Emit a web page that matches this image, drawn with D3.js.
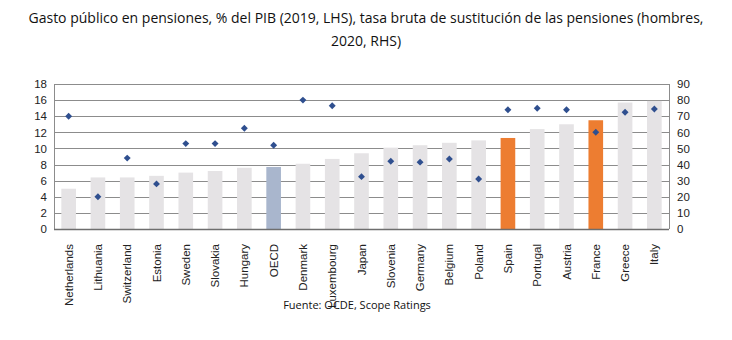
<!DOCTYPE html>
<html>
<head>
<meta charset="utf-8">
<script src="https://cdn.jsdelivr.net/npm/d3@7"></script>
<style>
  body { margin: 0; background: #fff; }
  svg { display: block; }
</style>
</head>
<body>
<div id="chart"></div>
<script>
// chart data
const countries = ["Netherlands", "Lithuania", "Switzerland", "Estonia", "Sweden", "Slovakia", "Hungary", "OECD",
  "Denmark", "Luxembourg", "Japan", "Slovenia", "Germany", "Belgium", "Poland", "Spain", "Portugal", "Austria",
  "France", "Greece", "Italy"];
const spending = [5.0, 6.4, 6.4, 6.6, 7.0, 7.2, 7.6, 7.7, 8.1, 8.7, 9.4, 10.1, 10.4, 10.7, 11.0, 11.3, 12.4, 13.0, 13.5, 15.7, 15.9];
const replacement = [70, 20, 44, 28, 53, 53, 62.5, 52, 80, 76.5, 32.5, 42, 41.5, 43.5, 31, 74, 75, 74, 60, 72.5, 74.5];
const leftTicks = [0, 2, 4, 6, 8, 10, 12, 14, 16, 18];
const rightTicks = [0, 10, 20, 30, 40, 50, 60, 70, 80, 90];
const highlight = { "OECD": "#a9b6cd", "Spain": "#ed7d31", "France": "#ed7d31" };

const W = 732, H = 340;
const margin = { top: 84, right: 63, bottom: 111, left: 54 };
const width = W - margin.left - margin.right,
      height = H - margin.top - margin.bottom;

const svg = d3.select("#chart").append("svg")
  .attr("width", W)
  .attr("height", H);

// title
const title = svg.append("text")
  .attr("x", 366)
  .attr("y", 23)
  .attr("text-anchor", "middle")
  .style("font-family", "'Open Sans', sans-serif")
  .style("font-size", "14px")
  .style("fill", "#111");
title.append("tspan").attr("x", 366).attr("dy", 0)
  .text("Gasto público en pensiones, % del PIB (2019, LHS), tasa bruta de sustitución de las pensiones (hombres,");
title.append("tspan").attr("x", 366).attr("dy", 23)
  .text("2020, RHS)");

const g = svg.append("g")
  .attr("transform", "translate(" + margin.left + "," + margin.top + ")");

const x = d3.scaleBand()
  .domain(countries)
  .range([0, width])
  .paddingInner(0.5)
  .paddingOuter(0.25);

const yL = d3.scaleLinear().domain([0, 18]).range([height, 0]);
const yR = d3.scaleLinear().domain([0, 90]).range([height, 0]);

// gridlines
g.selectAll("line.grid")
  .data(leftTicks)
  .enter().append("line")
  .attr("class", "grid")
  .attr("x1", 0).attr("x2", width)
  .attr("y1", d => Math.round(yL(d)) + 0.5)
  .attr("y2", d => Math.round(yL(d)) + 0.5)
  .attr("stroke", "#8c8c8c")
  .attr("stroke-width", 1);

// bars
g.selectAll("rect.bar")
  .data(spending)
  .enter().append("rect")
  .attr("class", "bar")
  .attr("x", (d, i) => x(countries[i]))
  .attr("width", x.bandwidth())
  .attr("y", d => yL(d))
  .attr("height", d => height - yL(d))
  .attr("fill", (d, i) => highlight[countries[i]] || "#e5e3e5");

// frame
g.append("line").attr("x1", 0.5).attr("x2", 0.5).attr("y1", 0).attr("y2", height)
  .attr("stroke", "#8c8c8c");
g.append("line").attr("x1", width + 0.5).attr("x2", width + 0.5).attr("y1", 0).attr("y2", height)
  .attr("stroke", "#8c8c8c");
g.append("line").attr("x1", 0).attr("x2", width).attr("y1", height + 0.5).attr("y2", height + 0.5)
  .attr("stroke", "#6e6e6e").attr("stroke-width", 1.5);

// diamonds (right axis)
const diamond = d3.symbol().type(d3.symbolSquare).size(24);
g.selectAll("path.pt")
  .data(replacement)
  .enter().append("path")
  .attr("class", "pt")
  .attr("d", diamond)
  .attr("transform", (d, i) => "translate(" + (x(countries[i]) + x.bandwidth() / 2) + "," + yR(d) + ") rotate(45)")
  .attr("fill", "#2f4f8f");

// axes
const tickFont = "'Liberation Sans', Arial, sans-serif";
const leftAxis = d3.axisLeft(yL).tickValues(leftTicks).tickSize(0).tickPadding(7);
const rightAxis = d3.axisRight(yR).tickValues(rightTicks).tickSize(0).tickPadding(8);
const bottomAxis = d3.axisBottom(x).tickSize(0).tickPadding(0);

g.append("g").attr("class", "y axis").call(leftAxis);
g.append("g").attr("class", "y2 axis").attr("transform", "translate(" + width + ",0)").call(rightAxis);
g.append("g").attr("class", "x axis").attr("transform", "translate(0," + height + ")").call(bottomAxis)
  .selectAll("text")
  .style("text-anchor", "end")
  .attr("dx", "-15px")
  .attr("dy", "0.35em")
  .attr("y", 0)
  .attr("transform", "rotate(-90)");

g.selectAll(".axis .domain").remove();
g.selectAll(".axis text")
  .style("font-family", tickFont)
  .style("font-size", "11.5px")
  .style("fill", "#222");

// source
svg.append("text")
  .attr("x", 357)
  .attr("y", 309)
  .attr("text-anchor", "middle")
  .style("font-family", "'Open Sans', sans-serif")
  .style("font-size", "11px")
  .style("fill", "#111")
  .text("Fuente: OCDE, Scope Ratings");
</script>
</body>
</html>
